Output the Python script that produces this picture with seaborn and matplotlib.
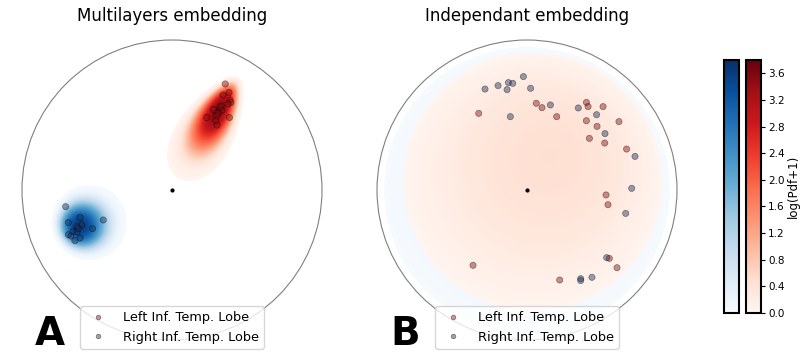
# -*- coding: utf-8 -*-
import numpy as np
import pandas as pd
import matplotlib
matplotlib.use('Agg')
import matplotlib.pyplot as plt
import seaborn as sns

# points in the Poincare disk (unit coordinates)
left_A_x = [0.355, 0.380, 0.340, 0.387, 0.393, 0.373, 0.320, 0.333, 0.277, 0.307, 0.297, 0.231, 0.383, 0.293, 0.300, 0.327]
left_A_y = [0.707, 0.650, 0.633, 0.600, 0.583, 0.573, 0.547, 0.533, 0.537, 0.513, 0.493, 0.483, 0.483, 0.463, 0.433, 0.560]
right_A_x = [-0.709, -0.691, -0.613, -0.458, -0.530, -0.602, -0.635, -0.660, -0.691, -0.633, -0.613, -0.647, -0.673, -0.625]
right_A_y = [-0.111, -0.217, -0.183, -0.200, -0.257, -0.233, -0.245, -0.277, -0.298, -0.280, -0.320, -0.337, -0.307, -0.257]

left_B_x = [-0.322, 0.062, 0.100, 0.198, 0.396, 0.407, 0.507, 0.396, 0.467, 0.416, 0.518, 0.613, 0.664, 0.527, 0.540, 0.549, 0.600, -0.360, 0.218]
left_B_y = [0.511, 0.578, 0.549, 0.489, 0.584, 0.556, 0.556, 0.462, 0.424, 0.344, 0.313, 0.456, 0.273, -0.033, -0.098, -0.456, -0.518, -0.502, -0.600]
right_B_x = [-0.280, -0.193, -0.133, -0.124, -0.095, -0.024, 0.024, -0.111, 0.156, 0.342, 0.464, 0.520, 0.720, 0.698, 0.658, 0.531, 0.358, 0.358, 0.433]
right_B_y = [0.673, 0.696, 0.669, 0.716, 0.711, 0.756, 0.678, 0.489, 0.567, 0.547, 0.502, 0.376, 0.224, 0.011, -0.156, -0.451, -0.591, -0.604, -0.582]

# fitted gaussians: mean (x, y), sigma radial, sigma tangential
gauss_left_A = [(0.31, 0.53), 0.33, 0.135]
gauss_right_A = [(-0.614, -0.241), 0.23, 0.23]
gauss_left_B = [(0.15, 0.22), 1.1, 1.1]
gauss_right_B = [(0.0, 0.0), 2.0, 2.0]

labels = ['Left Inf. Temp. Lobe', 'Right Inf. Temp. Lobe']
pal = {labels[0]: '#8b1010', labels[1]: '#1c2f5e'}
vmax = 3.8


def log_pdf(xx, yy, g):
    mu, sr, st = g
    z = xx + 1j * yy
    m = complex(mu[0], mu[1])
    u = (z - m) / (1 - np.conj(m) * z)
    au = np.abs(u)
    d = 2 * np.arctanh(np.clip(au, 0, 0.999999))
    w = d * u / np.where(au == 0, 1, au)
    if abs(m) > 0:
        w = w * np.conj(m) / abs(m)
    q = (w.real / sr) ** 2 + (w.imag / st) ** 2
    lam = 2 / (1 - abs(m) ** 2)
    p = lam ** 2 / (2 * np.pi * sr * st) * np.exp(-q / 2)
    res = np.log(p + 1)
    res[np.abs(z) >= 0.999] = np.nan
    return res


g = np.linspace(-1, 1, 500)
X, Y = np.meshgrid(g, g)
levels = np.linspace(0.03, vmax, 256)

fig = plt.figure(figsize=(8.05, 3.63), dpi=100)
ax1 = fig.add_axes([22 / 805, 23 / 363, 300 / 805, 300 / 363])
ax2 = fig.add_axes([377 / 805, 23 / 363, 300 / 805, 300 / 363])

panels = [
    (ax1, 'Multilayers embedding', 'A', gauss_left_A, gauss_right_A, left_A_x, left_A_y, right_A_x, right_A_y),
    (ax2, 'Independant embedding', 'B', gauss_left_B, gauss_right_B, left_B_x, left_B_y, right_B_x, right_B_y),
]

for ax, title, letter, gl, gr, lx, ly, rx, ry in panels:
    ax.contourf(X, Y, log_pdf(X, Y, gr), levels=levels, cmap='Blues', vmin=0, vmax=vmax, extend='max')
    ax.contourf(X, Y, log_pdf(X, Y, gl), levels=levels, cmap='Reds', vmin=0, vmax=vmax, extend='max')
    ax.add_patch(plt.Circle((0, 0), 1, fill=False, color='gray', lw=0.8, clip_on=False))
    ax.plot(0, 0, 'k.', ms=4)
    df = pd.DataFrame({
        'x': lx + rx,
        'y': ly + ry,
        'region': [labels[0]] * len(lx) + [labels[1]] * len(rx),
    })
    sns.scatterplot(data=df, x='x', y='y', hue='region', palette=pal, s=20, alpha=0.45,
                    edgecolor='black', linewidth=0.5, ax=ax)
    h, l = ax.get_legend_handles_labels()
    ax.legend(h, l, loc='lower center', bbox_to_anchor=(0.5, -0.03), borderaxespad=0,
              fontsize=9.3, markerscale=0.75, handletextpad=0.9)
    ax.set_xlim(-1, 1)
    ax.set_ylim(-1, 1)
    ax.set_aspect('equal')
    ax.axis('off')
    ax.set_title(title, fontsize=12, pad=14)
    ax.text(0.043, -0.017, letter, transform=ax.transAxes, fontsize=28, fontweight='bold',
            ha='left', va='baseline')

norm = matplotlib.colors.Normalize(vmin=0, vmax=vmax)
cax_b = fig.add_axes([724 / 805, 50 / 363, 15 / 805, 253 / 363])
cax_r = fig.add_axes([746 / 805, 50 / 363, 15 / 805, 253 / 363])
cb_b = fig.colorbar(matplotlib.cm.ScalarMappable(norm=norm, cmap='Blues'), cax=cax_b)
cb_b.set_ticks([])
cb_r = fig.colorbar(matplotlib.cm.ScalarMappable(norm=norm, cmap='Reds'), cax=cax_r)
cb_r.set_ticks(np.arange(0, 3.7, 0.4))
cb_r.ax.tick_params(labelsize=7.5, length=3, pad=2)
cb_r.set_label('log(Pdf+1)', fontsize=8.5, labelpad=2)
for cb in (cb_b, cb_r):
    cb.outline.set_linewidth(1.5)

plt.savefig('out.png', dpi=100)
